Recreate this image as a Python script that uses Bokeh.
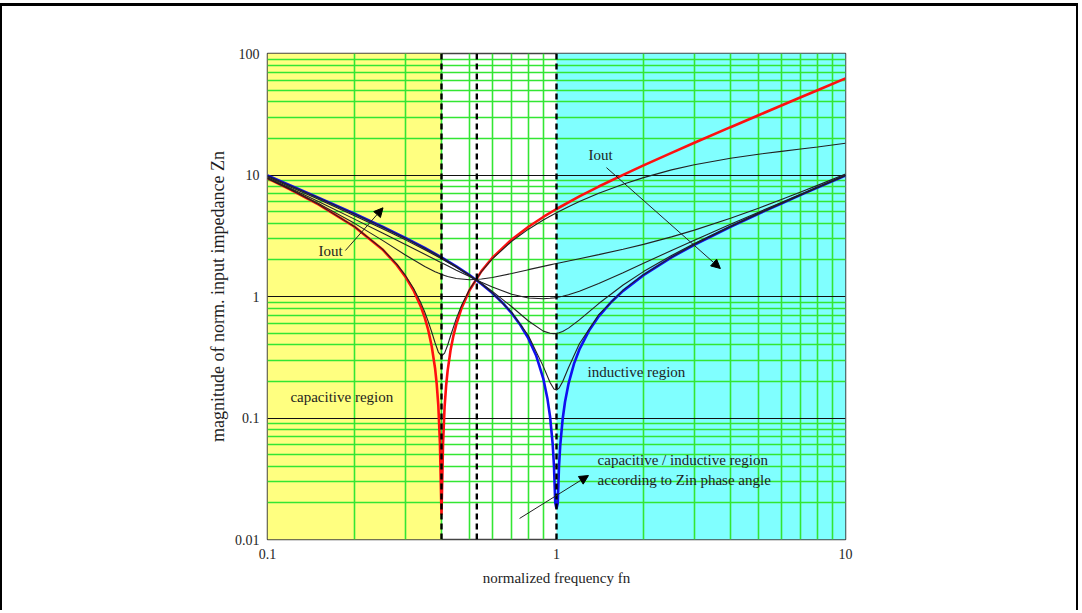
from bokeh.plotting import figure
from bokeh.models import (Range1d, FixedTicker, Grid, BoxAnnotation, Span, Label,
                          Arrow, NormalHead, CustomJSTickFormatter)
from bokeh.embed import file_html
from bokeh.resources import INLINE

# ---------------- data ----------------
# red: no-load (open output) impedance
fn_red = [0.1, 0.12, 0.15, 0.2, 0.25, 0.28, 0.3, 0.32, 0.34, 0.35, 0.36, 0.37, 0.38,
          0.385, 0.39, 0.395, 0.4, 0.405, 0.41, 0.415, 0.42, 0.43, 0.44, 0.45, 0.47,
          0.5, 0.55, 0.6, 0.7, 0.8, 0.9, 1.0, 1.2, 1.4, 1.7, 2, 2.5, 3, 4, 5, 6, 7, 8, 10]
zn_open = [9.375, 7.583, 5.729, 3.75, 2.4375, 1.821, 1.458, 1.125, 0.816, 0.670, 0.528,
           0.390, 0.257, 0.191, 0.127, 0.063, 0.016, 0.062, 0.1235, 0.184, 0.244, 0.362,
           0.477, 0.590, 0.810, 1.125, 1.619, 2.083, 2.946, 3.75, 4.514, 5.25, 6.667,
           8.036, 10.037, 12.0, 15.225, 18.417, 24.75, 31.05, 37.33, 43.61, 49.875, 62.4]

# blue: short-circuit output impedance
fn_blue = [0.1, 0.12, 0.15, 0.2, 0.25, 0.3, 0.35, 0.4, 0.45, 0.5, 0.55, 0.6, 0.65, 0.7,
           0.75, 0.8, 0.85, 0.9, 0.93, 0.95, 0.97, 0.98, 0.99, 1.0, 1.01, 1.02, 1.03,
           1.05, 1.07, 1.1, 1.15, 1.2, 1.3, 1.4, 1.55, 1.7, 2, 2.5, 3, 4, 5, 6, 7, 8, 10]
zn_short = [9.9, 8.213, 6.517, 4.8, 3.75, 3.033, 2.507, 2.1, 1.772, 1.5, 1.268, 1.067,
            0.889, 0.729, 0.583, 0.45, 0.327, 0.211, 0.145, 0.1026, 0.061, 0.0404,
            0.0201, 0.018, 0.0199, 0.0396, 0.0591, 0.0976, 0.1354, 0.1909, 0.2804,
            0.3667, 0.5308, 0.686, 0.905, 1.112, 1.5, 2.1, 2.667, 3.75, 4.8, 5.833,
            6.857, 7.875, 9.9]

# black: intermediate loads
fn_a = [0.1, 0.12, 0.15, 0.2, 0.25, 0.28, 0.3, 0.32, 0.34, 0.35, 0.36, 0.37, 0.38, 0.39,
        0.4, 0.41, 0.42, 0.43, 0.45, 0.47, 0.5, 0.55, 0.6, 0.7, 0.8, 0.9, 0.95, 1.0, 1.1,
        1.2, 1.4, 1.7, 2, 2.5, 3, 4, 5, 6, 7, 8, 10]
zn_load_a = [9.376, 7.584, 5.732, 3.757, 2.453, 1.845, 1.491, 1.169, 0.878, 0.745, 0.621,
             0.510, 0.416, 0.349, 0.323, 0.342, 0.397, 0.475, 0.657, 0.851, 1.141, 1.606,
             2.043, 2.849, 3.583, 4.261, 4.582, 4.893, 5.486, 6.043, 7.065, 8.395, 9.517,
             11.014, 12.155, 13.751, 14.828, 15.653, 16.356, 17.004, 18.26]

fn = [0.1, 0.12, 0.15, 0.2, 0.25, 0.3, 0.35, 0.38, 0.39, 0.4, 0.41, 0.42, 0.45, 0.5,
      0.55, 0.6, 0.7, 0.8, 0.9, 0.95, 0.98, 1.0, 1.02, 1.05, 1.1, 1.2, 1.4, 1.7, 2,
      2.5, 3, 4, 5, 6, 7, 8, 10]
zn_load_b = [9.410, 7.642, 5.841, 4.000, 2.896, 2.199, 1.766, 1.601, 1.558, 1.521, 1.489,
             1.462, 1.405, 1.374, 1.392, 1.435, 1.547, 1.663, 1.770, 1.821, 1.850, 1.869,
             1.888, 1.916, 1.961, 2.047, 2.211, 2.448, 2.686, 3.094, 3.519, 4.409, 5.336,
             6.284, 7.245, 8.216, 10.174]
zn_load_c = [9.491, 7.767, 6.043, 4.333, 3.329, 2.677, 2.225, 2.016, 1.954, 1.896, 1.841,
             1.789, 1.648, 1.458, 1.310, 1.196, 1.045, 0.973, 0.957, 0.966, 0.975, 0.982,
             0.991, 1.006, 1.035, 1.106, 1.279, 1.572, 1.877, 2.392, 2.906, 3.926, 4.940,
             5.949, 6.957, 7.962, 9.969]
zn_load_d = [9.654, 7.975, 6.301, 4.624, 3.610, 2.925, 2.426, 2.185, 2.112, 2.043, 1.977,
             1.913, 1.738, 1.489, 1.280, 1.103, 0.824, 0.629, 0.519, 0.498, 0.495, 0.498,
             0.503, 0.516, 0.549, 0.642, 0.875, 1.244, 1.603, 2.177, 2.729, 3.795, 4.835,
             5.863, 6.882, 7.897, 9.917]
zn_load_e = [9.851, 8.172, 6.484, 4.776, 3.732, 3.020, 2.497, 2.244, 2.167, 2.093, 2.023,
             1.955, 1.768, 1.499, 1.270, 1.071, 0.741, 0.475, 0.266, 0.196, 0.173, 0.170,
             0.176, 0.199, 0.259, 0.408, 0.710, 1.128, 1.512, 2.109, 2.674, 3.755, 4.804,
             5.837, 6.860, 7.878, 9.902]

black_curves = [(fn_a, zn_load_a), (fn, zn_load_b), (fn, zn_load_c),
                (fn, zn_load_d), (fn, zn_load_e)]

v_lines = [0.4, 0.53, 1.0]
v_labels = ["fno", "fn.cross", "fnr"]

x_ticks = [0.1, 1, 10]
y_ticks = [0.01, 0.1, 1, 10, 100]
x_minor = [0.2, 0.3, 0.4, 0.5, 0.6, 0.7, 0.8, 0.9, 2, 3, 4, 5, 6, 7, 8, 9]
y_minor = [0.02, 0.03, 0.04, 0.05, 0.06, 0.07, 0.08, 0.09,
           0.2, 0.3, 0.4, 0.5, 0.6, 0.7, 0.8, 0.9,
           2, 3, 4, 5, 6, 7, 8, 9,
           20, 30, 40, 50, 60, 70, 80, 90]
y_decades = [0.1, 1, 10]

cap_region = [0.1, 0.4]
ind_region = [1.0, 10.0]

# annotations: (text, x, y) in data units
text_notes = [
    ("Iout", 0.150, 2.39),
    ("Iout", 1.291, 14.5),
    ("capacitive region", 0.120, 0.1475),
    ("inductive region", 1.28, 0.237),
    ("capacitive / inductive region", 1.387, 0.0447),
    ("according to Zin phase angle", 1.387, 0.0306),
]
arrows = [
    (0.186, 2.39, 0.251, 5.37),
    (1.489, 11.5, 3.69, 1.70),
    (0.745, 0.0149, 1.29, 0.0336),
]
top_label_y = 120.8

FONT = "Liberation Serif"
GREEN = "#33e633"
TXT = "#1e1e1e"

# ---------------- figure ----------------
p = figure(width=1078, height=607, x_axis_type="log", y_axis_type="log",
           x_range=Range1d(0.1, 10), y_range=Range1d(0.01, 100),
           output_backend="svg", toolbar_location=None,
           min_border_left=265, min_border_right=235, min_border_top=47,
           min_border_bottom=74)
p.styles = {"border-top": "3px solid black", "border-left": "2px solid black",
            "border-right": "2px solid black", "margin-top": "3px"}
p.background_fill_color = "white"
p.border_fill_color = "white"
p.outline_line_color = "#444444"
p.outline_line_width = 1.5

# region backgrounds
p.add_layout(BoxAnnotation(left=cap_region[0], right=cap_region[1], fill_color="#ffff80",
                           fill_alpha=1, line_color=None, level="image"))
p.add_layout(BoxAnnotation(left=ind_region[0], right=ind_region[1], fill_color="#80ffff",
                           fill_alpha=1, line_color=None, level="image"))

# grids
p.xgrid.ticker = FixedTicker(ticks=x_minor)
p.ygrid.ticker = FixedTicker(ticks=y_minor)
for g in (p.xgrid, p.ygrid):
    g.grid_line_color = GREEN
    g.grid_line_width = 1.6
    g.grid_line_alpha = 1
p.add_layout(Grid(dimension=1, ticker=FixedTicker(ticks=y_decades),
                  grid_line_color="#111111", grid_line_width=1.2))

# axes
p.xaxis.ticker = FixedTicker(ticks=x_ticks)
p.yaxis.ticker = FixedTicker(ticks=y_ticks)
fmt = CustomJSTickFormatter(code="return tick.toString();")
for ax in (p.xaxis[0], p.yaxis[0]):
    ax.formatter = fmt
    ax.axis_line_color = None
    ax.major_tick_line_color = None
    ax.minor_tick_line_color = None
    ax.major_label_text_font = FONT
    ax.major_label_text_font_size = "14px"
    ax.major_label_text_color = TXT
    ax.axis_label_text_font = FONT
    ax.axis_label_text_font_style = "normal"
    ax.axis_label_text_color = TXT
p.xaxis.axis_label = "normalized frequency fn"
p.yaxis.axis_label = "magnitude of norm. input impedance Zn"
p.xaxis.axis_label_text_font_size = "15px"
p.yaxis.axis_label_text_font_size = "18px"
p.xaxis.major_label_standoff = 3
p.yaxis.major_label_standoff = 2
p.xaxis.axis_label_standoff = 8
p.yaxis.axis_label_standoff = 4

# curves
p.line(fn_red, zn_open, line_color="#ff1010", line_width=2.6)
p.line(fn_blue, zn_short, line_color="#1010f0", line_width=2.6)
for xs, ys in black_curves:
    p.line(xs, ys, line_color="#222222", line_width=1.1)

# dashed reference frequencies
for v, t in zip(v_lines, v_labels):
    p.add_layout(Span(location=v, dimension="height", line_color="black",
                      line_width=2.4, line_dash="6 4"))
    p.add_layout(Label(x=v, y=top_label_y, text=t, text_align="center",
                       text_baseline="middle", text_font=FONT, text_font_size="14px",
                       text_color=TXT))

# text notes and arrows
for t, x, y in text_notes:
    p.add_layout(Label(x=x, y=y, text=t, text_align="left", text_baseline="middle",
                       text_font=FONT, text_font_size="15px", text_color=TXT))
for xs, ys, xe, ye in arrows:
    p.add_layout(Arrow(end=NormalHead(size=9, fill_color="black", line_color="black"),
                       x_start=xs, y_start=ys, x_end=xe, y_end=ye,
                       line_color="#222222", line_width=1))

open("out.html", "w").write(file_html(p, INLINE))
